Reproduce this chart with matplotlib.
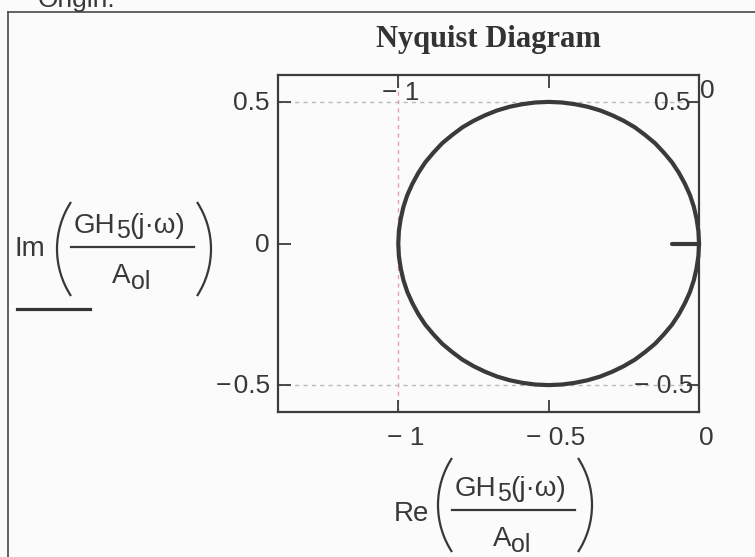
import matplotlib
matplotlib.use("Agg")
import matplotlib.pyplot as plt
from matplotlib.patches import Arc
import math

# ---- data -------------------------------------------------------------
# Nyquist locus of GH5(jw)/A_ol: real parts ...
re_vals = [0.000, -0.002, -0.008, -0.017, -0.030, -0.047, -0.067, -0.090, -0.117,
           -0.146, -0.179, -0.213, -0.250, -0.289, -0.329, -0.371, -0.413, -0.456,
           -0.500, -0.544, -0.587, -0.629, -0.671, -0.711, -0.750, -0.787, -0.821,
           -0.854, -0.883, -0.910, -0.933, -0.953, -0.970, -0.983, -0.992, -0.998,
           -1.000,
           -0.998, -0.992, -0.983, -0.970, -0.953, -0.933, -0.910, -0.883, -0.854,
           -0.821, -0.787, -0.750, -0.711, -0.671, -0.629, -0.587, -0.544, -0.500,
           -0.456, -0.413, -0.371, -0.329, -0.289, -0.250, -0.213, -0.179, -0.146,
           -0.117, -0.090, -0.067, -0.047, -0.030, -0.017, -0.008, -0.002, 0.000]
# ... and imaginary parts
im_vals = [0.000, 0.044, 0.087, 0.129, 0.171, 0.211, 0.250, 0.287, 0.321,
           0.354, 0.383, 0.410, 0.433, 0.453, 0.470, 0.483, 0.492, 0.498,
           0.500, 0.498, 0.492, 0.483, 0.470, 0.453, 0.433, 0.410, 0.383,
           0.354, 0.321, 0.287, 0.250, 0.211, 0.171, 0.129, 0.087, 0.044,
           0.000,
           -0.044, -0.087, -0.129, -0.171, -0.211, -0.250, -0.287, -0.321, -0.354,
           -0.383, -0.410, -0.433, -0.453, -0.470, -0.483, -0.492, -0.498, -0.500,
           -0.498, -0.492, -0.483, -0.470, -0.453, -0.433, -0.410, -0.383, -0.354,
           -0.321, -0.287, -0.250, -0.211, -0.171, -0.129, -0.087, -0.044, 0.000]
# short segment of the trace lying on the real axis near the origin
tail_re = [-0.09, 0.0]
tail_im = [0.0, 0.0]

x_ticks = [-1, -0.5, 0]
x_tick_labels = ["\u2212 1", "\u2212 0.5", "0"]
y_ticks = [-0.5, 0, 0.5]
y_tick_labels = ["\u2212\u200a0.5", "0", "0.5"]

x_markers = [-1]
x_marker_labels = ["\u2212 1", "0"]
y_markers = [0.5, -0.5]
y_marker_labels = ["0.5", "\u2212 0.5"]

title_text = "Nyquist Diagram"

# ---- figure -----------------------------------------------------------
W, H = 755, 557
BG = "#fbfbfb"
INK = "#383838"
plt.rcParams["font.family"] = ["Liberation Sans", "DejaVu Sans"]

fig = plt.figure(figsize=(W / 100, H / 100), dpi=100, facecolor=BG)

ax = fig.add_axes([278 / W, (H - 412) / H, 421 / W, 337 / H])
ax.set_facecolor(BG)
ax.set_xlim(-1.4, 0)
ax.set_ylim(-0.595, 0.595)

# dashed marker lines
for xm in x_markers:
    ax.axvline(xm, color="#e6a0a0", lw=1.0, ls=(0, (3, 3)), zorder=1)
for ym in y_markers:
    ax.axhline(ym, color="#b8b8b8", lw=1.0, ls=(0, (3, 3)), zorder=1)

# trace
ax.plot(re_vals, im_vals, color="#3a3a3a", lw=3.0, solid_joinstyle="round",
        clip_on=False, zorder=3)
ax.plot(tail_re, tail_im, color="#3a3a3a", lw=3.0, solid_capstyle="round",
        clip_on=False, zorder=3)

for s in ax.spines.values():
    s.set_color("#3c3c3c")
    s.set_linewidth(1.6)
ax.set_xticks(x_ticks)
ax.set_yticks(y_ticks)
ax.tick_params(direction="in", length=9, width=1.3, color="#3c3c3c",
               top=True, right=True, labelbottom=False, labelleft=False)

TS = 19
for v, lbl in zip(x_ticks, x_tick_labels):
    ax.annotate(lbl, xy=(v, 0), xycoords=("data", "axes fraction"),
                xytext=(7, -26), textcoords="offset pixels", ha="center",
                va="center", fontsize=TS, color=INK, annotation_clip=False)
for v, lbl in zip(y_ticks, y_tick_labels):
    ax.annotate(lbl, xy=(0, v), xycoords=("axes fraction", "data"),
                xytext=(-8, -1), textcoords="offset pixels", ha="right",
                va="center", fontsize=TS, color=INK, annotation_clip=False)

# marker value labels
ax.annotate(x_marker_labels[0], xy=(-1, 1), xycoords=("data", "axes fraction"),
            xytext=(2, -18), textcoords="offset pixels", ha="center", va="center",
            fontsize=TS, color=INK, annotation_clip=False)
ax.annotate(x_marker_labels[1], xy=(0, 1), xycoords=("data", "axes fraction"),
            xytext=(8, -16), textcoords="offset pixels", ha="center", va="center",
            fontsize=TS, color=INK, annotation_clip=False)
ax.annotate(y_marker_labels[0], xy=(1, 0.5), xycoords=("axes fraction", "data"),
            xytext=(-27, -1), textcoords="offset pixels", ha="center", va="center",
            fontsize=TS, color=INK, annotation_clip=False)
ax.annotate(y_marker_labels[1], xy=(1, -0.5), xycoords=("axes fraction", "data"),
            xytext=(-35, -1), textcoords="offset pixels", ha="center", va="center",
            fontsize=TS, color=INK, annotation_clip=False)

# ---- overlay in pixel coordinates for frame, title and axis labels ----
ov = fig.add_axes([0, 0, 1, 1])
ov.set_xlim(0, W)
ov.set_ylim(H, 0)
ov.axis("off")
ov.patch.set_alpha(0)

ov.plot([8, 8], [12, H], color="#555555", lw=1.3)
ov.plot([8, W], [12, 12], color="#555555", lw=1.3)
ov.text(38, 7, "Origin:", fontsize=TS, color=INK, va="baseline", ha="left")

ov.text(488, 40, title_text, family=["Liberation Serif", "DejaVu Serif"],
        weight="bold", fontsize=22, ha="center", va="center", color="#333333")

renderer = fig.canvas.get_renderer()
LS, SS = 20, 18


def run(x, y, parts):
    """Place text pieces one after another on a common baseline."""
    for s, size, dy in parts:
        t = ov.text(x, y + dy, s, fontsize=size, ha="left", va="baseline",
                    color=INK)
        x += t.get_window_extent(renderer).width
    return x


def paren(x_edge, yc, half, sag, side):
    r = (half ** 2 + sag ** 2) / (2 * sag)
    ang = math.degrees(math.asin(half / r))
    if side == "left":
        cx, t1, t2 = x_edge + r, 180 - ang, 180 + ang
    else:
        cx, t1, t2 = x_edge - r, -ang, ang
    ov.add_patch(Arc((cx, yc), 2 * r, 2 * r, theta1=t1, theta2=t2,
                     color=INK, lw=1.6))


def fraction_label(prefix, pl, by, prefix_dx, prefix_dy, paren_dy):
    ov.text(pl - prefix_dx, by + prefix_dy, prefix, fontsize=LS, ha="right",
            va="baseline", color=INK)
    pc = by + paren_dy
    paren(pl, pc, 47, 14, "left")
    run(pl + 17, by - 14, [("GH", LS, 0), ("5", SS, 5), ("(j\u00b7\u03c9)", LS, 0)])
    ov.plot([pl + 14, pl + 137], [by, by], color=INK, lw=1.6)
    run(pl + 55, by + 36, [("A", LS, 0), ("ol", SS, 6)])
    paren(pl + 154, pc, 47, 14, "right")


fraction_label("Im", 57, 247, 12, 9, 2)
fraction_label("Re", 438, 510, 9, 11, -5)

# line style key under the vertical-axis label
ov.plot([17, 90], [309, 309], color="#333333", lw=2.3)

fig.savefig("out.png", dpi=100, facecolor=BG)
